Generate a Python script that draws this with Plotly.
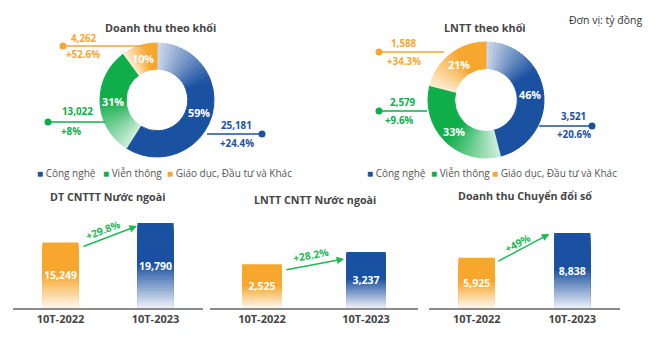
import math
import plotly.graph_objects as go

W, H = 668, 341
FONT = "Open Sans"

# ---- data -------------------------------------------------------------
segments = ["Công nghệ", "Viễn thông", "Giáo dục, Đầu tư và Khác"]

rev_share = [59, 31, 10]                 # % of revenue by segment
rev_value = [25181, 13022, 4262]         # tỷ đồng
rev_growth = ["+24.4%", "+8%", "+52.6%"]

pbt_share = [46, 33, 21]                 # % of profit before tax by segment
pbt_value = [3521, 2579, 1588]
pbt_growth = ["+20.6%", "+9.6%", "+34.3%"]

periods = ["10T-2022", "10T-2023"]
overseas_rev = [15249, 19790]
overseas_pbt = [2525, 3237]
digital_rev = [5925, 8838]
bar_growth = ["+29.8%", "+28.2%", "+49%"]

# ---- styling ----------------------------------------------------------
BLUE, GREEN, ORANGE = "#1b51a1", "#10ad4b", "#f7a72d"
SEG_COLORS = [BLUE, GREEN, ORANGE]
ARROW_GREEN = "#1db954"
TEXT_DARK = "#454545"


def mix(hex_color, t):
    """Blend a colour with white; t=1 gives the colour itself."""
    h = hex_color.lstrip("#")
    r, g, b = (int(h[i:i + 2], 16) for i in (0, 2, 4))
    return "rgb({},{},{})".format(
        round(255 + (r - 255) * t), round(255 + (g - 255) * t), round(255 + (b - 255) * t)
    )


def px(x):
    return x / W


def py(y):
    return 1 - y / H


def ring_shading(shares, colors, ramp_deg, t0=0.2, steps=14):
    """Split each slice so its leading edge fades in from a pale tint."""
    vals, cols = [], []
    for s, c, r in zip(shares, colors, ramp_deg):
        span = s * 3.6
        ramp = min(r, span * 0.7)
        part = s * ramp / span
        for i in range(steps):
            vals.append(part / steps)
            cols.append(mix(c, t0 + (1 - t0) * (i + 0.5) / steps))
        vals.append(s - part)
        cols.append(c)
    return vals, cols


fig = go.Figure()
ann = []


def label(x, y, text, color=TEXT_DARK, size=11, weight=700, anchor="center", angle=0,
          xref="paper", yref="paper"):
    ann.append(dict(
        x=x, y=y, xref=xref, yref=yref, text=text, showarrow=False,
        xanchor=anchor, yanchor="middle", textangle=angle,
        font=dict(family=FONT, size=size, color=color, weight=weight),
    ))


HOLE = 0.54
# donut boxes in pixels: (left, top, size)
donuts = [
    (rev_share, (100, 43, 114), [70, 58, 60]),
    (pbt_share, (428, 42, 116), [60, 60, 45]),
]
for shares, (left, top, size), ramps in donuts:
    dom = dict(x=[px(left), px(left + size)], y=[py(top + size), py(top)])
    vals, cols = ring_shading(shares, SEG_COLORS, ramps)
    fig.add_trace(go.Pie(
        values=vals, sort=False, direction="clockwise", rotation=0, hole=HOLE,
        marker=dict(colors=cols, line=dict(color=cols, width=1)),
        textinfo="none", hoverinfo="skip", showlegend=False, domain=dom,
    ))
    # share labels placed at each slice's mid-angle, halfway across the ring
    cx, cy, R = left + size / 2, top + size / 2, size / 2
    r_lab = R * (1 + HOLE) / 2
    total = sum(shares)
    acc = 0
    for s in shares:
        mid = math.radians((acc + s / 2) / total * 360)
        acc += s
        label(px(cx + r_lab * math.sin(mid)), py(cy - r_lab * math.cos(mid)),
              f"{s}%", color="white", size=10.8)

# ---- bar panels -------------------------------------------------------
BAR_W = 0.38
panels = [
    (overseas_rev, "x", "y"),
    (overseas_pbt, "x2", "y2"),
    (digital_rev, "x3", "y3"),
]
K = 30
FADE = 0.52
for values, xa, ya in panels:
    colors = [ORANGE, BLUE]
    for k in range(K, 0, -1):
        f = (k - 0.5) / K
        t = 1.0 if f >= FADE else 0.08 + 0.92 * (f / FADE)
        fig.add_trace(go.Bar(
            x=periods, y=[v * k / K for v in values], width=BAR_W,
            marker=dict(color=[mix(c, t) for c in colors], line=dict(width=0)),
            hoverinfo="skip", showlegend=False, xaxis=xa, yaxis=ya,
        ))
    fig.add_trace(go.Bar(
        x=periods, y=values, width=BAR_W,
        text=[f"{v:,}" for v in values], textposition="inside", insidetextanchor="middle",
        textangle=0, constraintext="none",
        textfont=dict(color="white", size=10.5, family=FONT, weight=700),
        marker=dict(color="rgba(0,0,0,0)", line=dict(width=0)),
        showlegend=False, xaxis=xa, yaxis=ya,
    ))

ydom = [py(308), py(215)]
axis_common = dict(
    showgrid=False, zeroline=False, showline=True, linecolor="#8a8a8a", linewidth=2,
    ticks="", range=[-0.5, 1.5], fixedrange=True,
    tickfont=dict(family=FONT, size=11, color=TEXT_DARK, weight=700),
)
yaxis_common = dict(visible=False, showgrid=False, zeroline=False, domain=ydom, fixedrange=True)

fig.update_layout(
    width=W, height=H, margin=dict(l=0, r=0, t=0, b=0),
    paper_bgcolor="white", plot_bgcolor="white", barmode="overlay",
    font=dict(family=FONT, color=TEXT_DARK),
    xaxis=dict(domain=[px(13), px(203)], anchor="y", **axis_common),
    xaxis2=dict(domain=[px(210), px(418)], anchor="y2", **axis_common),
    xaxis3=dict(domain=[px(429), px(620)], anchor="y3", **axis_common),
    yaxis=dict(range=[0, 21653], anchor="x", **yaxis_common),
    yaxis2=dict(range=[0, 5376], anchor="x2", **yaxis_common),
    yaxis3=dict(range=[0, 10959], anchor="x3", **yaxis_common),
)

# titles
label(px(160), py(27), "Doanh thu theo khối", size=10.8)
label(px(485), py(27), "LNTT theo khối", size=10.8)
label(px(107), py(197), "DT CNTTT Nước ngoài", size=10.7)
label(px(315), py(200), "LNTT CNTT Nước ngoài", size=10.7)
label(px(525), py(196), "Doanh thu Chuyển đổi số", size=10.7)
label(px(606), py(20), "Đơn vị: tỷ đồng", color="#333333", size=10.5, weight=400)

# callouts around the donuts: (value x, value y, growth x, growth y)
callout_pos = [
    [(236, 125, 237, 143), (77, 112, 71, 131), (84, 38, 83, 55)],
    [(573, 117, 574, 134), (403, 103, 399, 120), (404, 43, 404, 61)],
]
for values, growths, positions in [(rev_value, rev_growth, callout_pos[0]),
                                   (pbt_value, pbt_growth, callout_pos[1])]:
    for v, g, c, (vx, vy, gx, gy) in zip(values, growths, SEG_COLORS, positions):
        label(px(vx), py(vy), f"{v:,}", color=c, size=9.8)
        label(px(gx), py(gy), g, color=c, size=9.8)

# leader lines with end dots: (colour, x0, x1, y, dot x)
leaders = [
    (BLUE, 207, 262, 134, 262), (GREEN, 48, 105, 122, 48), (ORANGE, 63, 158, 46, 63),
    (BLUE, 539, 592, 126, 592), (GREEN, 379, 427, 111, 379), (ORANGE, 379, 444, 52, 379),
]
shapes = []
for c, x0, x1, y, dx in leaders:
    shapes.append(dict(type="line", xref="paper", yref="paper", x0=px(x0), x1=px(x1),
                       y0=py(y), y1=py(y), line=dict(color=c, width=1.5)))
    shapes.append(dict(type="circle", xref="paper", yref="paper",
                       x0=px(dx - 3.5), x1=px(dx + 3.5), y0=py(y + 3.5), y1=py(y - 3.5),
                       fillcolor=c, line=dict(color=c, width=0)))

# legends under each donut
for starts in ([37, 103, 167], [367, 431, 492]):
    for name, c, x0 in zip(segments, SEG_COLORS, starts):
        label(px(x0 - 2), py(173),
              f"<span style='color:{c}'>■</span> {name}",
              color="#555555", size=10, weight=400, anchor="left")

# growth arrows between the bars
arrows = [
    (overseas_rev, "x", "y", 0.226, 0.93, 0.805, 0.965, 0.447, 18160, -21),
    (overseas_pbt, "x2", "y2", 0.22, 0.87, 0.79, 0.875, 0.47, 3064, -10.5),
    (digital_rev, "x3", "y3", 0.21, 0.915, 0.76, 0.987, 0.43, 7660, -28),
]
for (values, xa, ya, tx, tf, hx, hf, lx, ly, ang), g in zip(arrows, bar_growth):
    ann.append(dict(
        x=hx, y=values[1] * hf, ax=tx, ay=values[0] * tf,
        xref=xa, yref=ya, axref=xa, ayref=ya, text="", showarrow=True,
        arrowhead=2, arrowsize=1, arrowwidth=1.5, arrowcolor=ARROW_GREEN,
    ))
    label(lx, ly, g, color=ARROW_GREEN, size=10.3, angle=ang, xref=xa, yref=ya)

fig.update_layout(annotations=ann, shapes=shapes)
fig.write_html("out.html")
